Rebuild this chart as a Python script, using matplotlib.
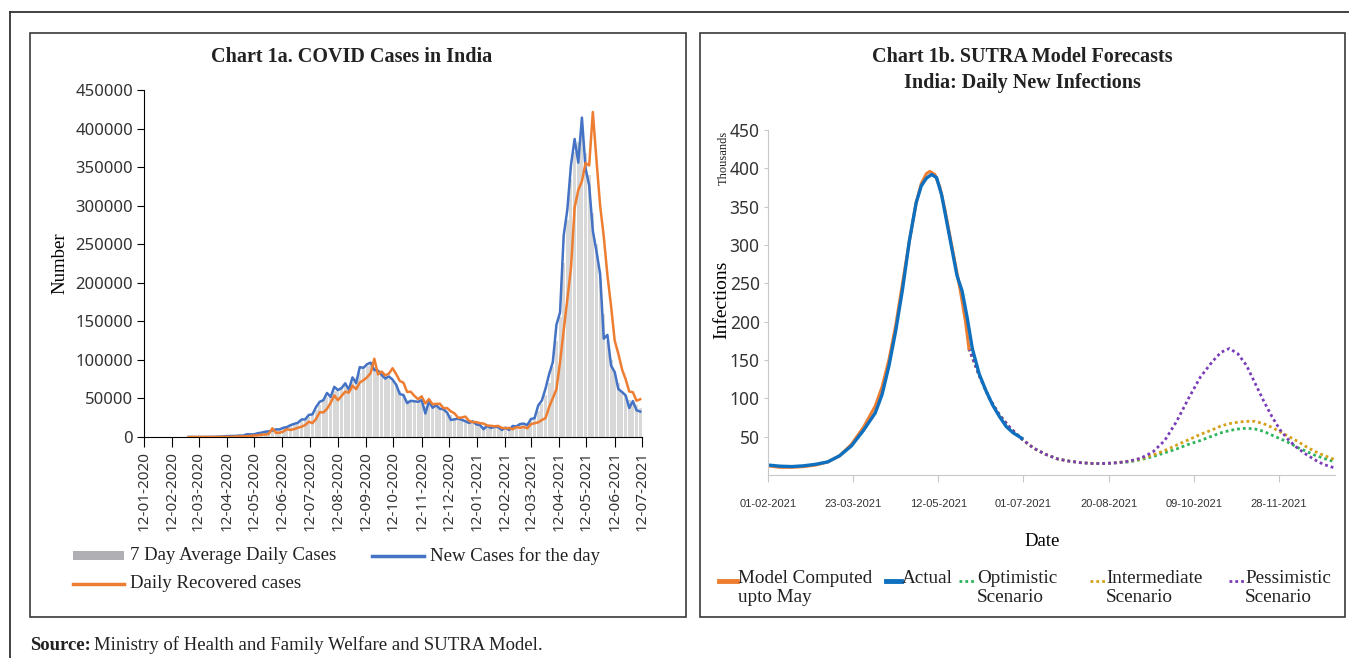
import matplotlib
matplotlib.use("Agg")
import matplotlib.pyplot as plt
import matplotlib.dates as mdates
import matplotlib.ticker as mticker
from matplotlib.lines import Line2D
from matplotlib.patches import Rectangle
import numpy as np
import pandas as pd

W, H = 1349, 658
SERIF = ["Liberation Serif", "DejaVu Serif"]
SANS = ["Noto Sans", "DejaVu Sans"]
NARROW = ["Liberation Sans Narrow", "Liberation Sans", "DejaVu Sans"]
plt.rcParams["font.family"] = SERIF
plt.rcParams["text.color"] = "#222222"

# ---------------- Chart 1a: daily values in thousands, every 4 days from 01-03-2020
new_cases = [
    0, 0, 0.01, 0.02, 0.03, 0.07, 0.09, 0.15,
    0.4, 0.6, 0.9, 1.2, 1.3, 1.4, 1.9, 1.8,
    3.6, 3.3, 3.5, 4.9, 5.6, 6.8, 7.3,
    8.4, 9.9, 9.9, 11.9, 12.9, 15.4, 17.0, 18.5,
    22.7, 22.8, 28.6, 29.4, 38.9, 45.7, 47.7, 57.1,
    52.0, 65.0, 60.9, 63.5, 69.6, 61.4, 77.3,
    69.9, 90.6, 89.7, 94.4, 96.4, 86.9, 86.1, 80.5,
    75.8, 78.5, 74.4, 67.7, 55.7, 54.4, 43.9, 46.9,
    46.3, 45.7, 47.9, 30.5, 45.9, 37.9, 41.3,
    36.6, 36.0, 31.5, 22.1, 22.9, 23.9, 22.3, 20.5,
    18.2, 20.3, 16.3, 15.6, 10.1, 14.3, 11.7, 13.1,
    12.9, 9.1, 12.1, 9.1, 14.3, 13.7, 16.8,
    17.4, 15.4, 23.3, 24.5, 40.9, 47.3, 62.7,
    81.5, 96.9, 145.4, 161.7, 261.5, 295.0, 352.9, 386.5,
    355.8, 414.2, 348.4, 326.1, 267.3, 240.8, 211.3, 127.5,
    132.4, 92.6, 84.3, 62.2, 58.4, 54.1, 37.6,
    46.6, 34.7, 33.0,
]
recovered = [
    0, 0, 0, 0, 0, 0, 0.01, 0.02,
    0.05, 0.1, 0.1, 0.2, 0.3, 0.6, 0.8, 0.7,
    1.1, 1.3, 1.9, 2.2, 3.0, 3.3, 3.9,
    11.3, 5.4, 5.6, 7.0, 10.2, 9.1, 10.3, 12.0,
    13.2, 15.5, 19.8, 18.0, 23.5, 32.2, 31.9, 36.5,
    44.3, 53.9, 47.7, 53.3, 58.8, 57.5, 66.6,
    62.0, 70.6, 73.6, 77.5, 82.9, 101.5, 81.2, 84.9,
    79.9, 82.2, 89.2, 81.5, 72.6, 70.4, 58.4, 58.7,
    53.3, 49.1, 52.7, 43.5, 49.2, 42.3, 43.0,
    43.1, 37.5, 37.5, 33.3, 30.7, 25.0, 25.2, 26.5,
    20.9, 19.3, 19.3, 17.9, 17.4, 14.9, 14.5, 13.9,
    14.4, 11.8, 11.4, 11.8, 10.0, 12.8, 12.0,
    13.1, 11.3, 16.6, 17.9, 19.0, 22.0, 24.5,
    38.9, 50.3, 61.8, 97.2, 138.4, 178.8, 219.3, 297.5,
    320.3, 331.5, 355.3, 352.2, 421.5, 359.0, 300.0, 260.0,
    210.0, 170.0, 125.0, 108.0, 88.0, 75.0, 59.0,
    58.0, 47.0, 49.0,
]
avg_7day = [
    0, 0, 0, 0.01, 0.02, 0.05, 0.08, 0.12,
    0.3, 0.5, 0.8, 1.0, 1.2, 1.3, 1.6, 1.7,
    2.5, 3.2, 3.6, 4.1, 5.2, 6.3, 7.0,
    7.9, 9.0, 9.6, 11.1, 12.2, 14.3, 16.1, 18.4,
    20.5, 22.9, 26.3, 29.6, 35.5, 41.7, 47.5, 52.0,
    54.0, 60.0, 62.5, 63.5, 66.5, 64.4, 70.9,
    76.0, 83.0, 88.0, 92.5, 93.2, 90.0, 86.0, 83.0,
    78.5, 75.0, 73.0, 67.0, 60.0, 54.0, 48.0, 47.0,
    46.0, 46.0, 45.5, 40.5, 42.0, 42.5, 41.5,
    38.0, 34.5, 31.0, 28.0, 24.6, 23.5, 21.5, 20.0,
    19.5, 18.5, 17.5, 15.5, 14.5, 13.8, 13.2, 12.8,
    12.6, 11.9, 11.5, 11.4, 12.5, 13.9, 15.5,
    16.2, 17.3, 21.5, 25.5, 33.5, 42.5, 54.0,
    70.0, 91.0, 125.0, 155.0, 226.0, 282.0, 335.0, 369.0,
    383.0, 391.0, 368.0, 340.0, 290.0, 250.0, 205.0, 160.0,
    125.0, 100.0, 85.0, 70.0, 60.0, 54.0, 48.0,
    44.0, 42.0, 38.0,
]

# ---------------- Chart 1b: days after 01-02-2021, values in thousands
actual_days = [0, 7, 14, 21, 28, 35, 42, 49, 56, 63, 67, 71, 75, 79, 83, 87, 90,
               93, 96, 99, 102, 105, 108, 111, 114, 117, 120, 124, 128, 132, 136,
               140, 144, 149]
actual = [13, 11.5, 11, 12, 14, 17, 25, 38, 58, 81, 105, 142, 188, 242, 305, 355,
          377, 387, 392, 388, 365, 330, 295, 260, 240, 205, 165, 132, 110, 91, 76,
          63, 55, 48]
model_days = [0, 7, 14, 21, 28, 35, 42, 49, 56, 63, 67, 71, 75, 79, 83, 87, 90,
              93, 95, 98, 101, 104, 107, 110, 113, 116, 118]
model = [12, 10, 10, 11, 13, 17, 25, 40, 62, 90, 115, 150, 195, 250, 305, 355,
         380, 393, 396, 392, 375, 345, 310, 275, 240, 200, 165]
scen_days = [118, 124, 130, 136, 142, 149, 156, 163, 170, 177, 184, 191, 198, 205,
             212, 219, 226, 233, 240, 247, 254, 261, 266, 271, 276, 281, 286, 291,
             296, 301, 306, 311, 316, 321, 326, 333]
optimistic = [165, 130, 100, 78, 62, 47, 35, 27, 21, 18, 16, 15, 15, 16,
              17, 20, 24, 29, 34, 40, 45, 51, 55, 58, 60, 61, 60, 57,
              52, 47, 42, 36, 31, 26, 22, 17]
intermediate = [165, 130, 100, 78, 62, 47, 35, 27, 21, 18, 16, 15, 15, 16,
                18, 21, 26, 32, 39, 46, 53, 59, 64, 67, 69, 70, 70, 67,
                62, 56, 50, 44, 37, 31, 26, 20]
pessimistic = [165, 130, 100, 78, 62, 47, 35, 27, 21, 18, 16, 15, 15, 16,
               18, 22, 30, 45, 70, 100, 128, 148, 160, 165, 158, 143, 120, 97,
               76, 58, 45, 35, 27, 20, 14, 9]


def fx(px):
    return px / W


def fy(py):
    return 1 - py / H


fig = plt.figure(figsize=(W / 100, H / 100), dpi=100)

# frames
fig.add_artist(Line2D([fx(10), 1], [fy(12), fy(12)], transform=fig.transFigure,
                      color="#333333", lw=1.3))
fig.add_artist(Line2D([fx(10), fx(10)], [fy(12), 0], transform=fig.transFigure,
                      color="#333333", lw=1.3))
for x0, x1 in [(30, 686), (700, 1345)]:
    fig.add_artist(Rectangle((fx(x0), fy(617)), (x1 - x0) / W, (617 - 33) / H,
                             transform=fig.transFigure, fill=False,
                             edgecolor="#3a3a3a", lw=1.2))

# ---------------- Chart 1a
dates_1a = pd.date_range("2020-03-01", periods=len(new_cases), freq="4D")
ax1 = fig.add_axes([fx(144), fy(437), (642 - 144) / W, (437 - 90) / H])
ax1.bar(dates_1a, np.array(avg_7day) * 1000, width=3.3, color="#d8d8d8",
        linewidth=0, zorder=1)
ax1.plot(dates_1a, np.array(new_cases) * 1000, color="#4472C4", lw=1.8, zorder=2)
ax1.plot(dates_1a, np.array(recovered) * 1000, color="#ED7D31", lw=1.8, zorder=3)
ax1.set_xlim(pd.Timestamp("2020-01-12"), pd.Timestamp("2021-07-12"))
ax1.set_ylim(0, 450000)
ax1.set_yticks(range(0, 450001, 50000))
ax1.yaxis.set_major_formatter(mticker.StrMethodFormatter("{x:.0f}"))
ax1.set_xticks(pd.date_range("2020-01-01", "2021-07-01", freq="MS")
               + pd.Timedelta(days=11))
ax1.xaxis.set_major_formatter(mdates.DateFormatter("%d-%m-%Y"))
ax1.tick_params(axis="x", rotation=90, length=7, pad=3, labelsize=11)
ax1.tick_params(axis="y", length=5, pad=3, labelsize=12)
ax1.tick_params(labelfontfamily=SANS, labelcolor="#333333")
for side in ["top", "right"]:
    ax1.spines[side].set_visible(False)
ax1.set_ylabel("Number", fontsize=13.5)
ax1.yaxis.set_label_coords(-0.152, 0.5)

fig.text(fx(352), fy(57), "Chart 1a. COVID Cases in India", ha="center",
         va="center", fontsize=14.5, fontweight="bold")

# legend 1a
fig.add_artist(Rectangle((fx(73), fy(560)), 51 / W, 9 / H,
                         transform=fig.transFigure, color="#b0b0b4", lw=0))
fig.add_artist(Line2D([fx(372), fx(424)], [fy(556)] * 2, transform=fig.transFigure,
                      color="#4472C4", lw=2.5))
fig.add_artist(Line2D([fx(73), fx(124)], [fy(584)] * 2, transform=fig.transFigure,
                      color="#ED7D31", lw=2.5))
fig.text(fx(130), fy(556), "7 Day Average Daily Cases", va="center", fontsize=13.5)
fig.text(fx(430), fy(556), "New Cases for the day", va="center", fontsize=13.5)
fig.text(fx(130), fy(584), "Daily Recovered cases", va="center", fontsize=13.5)

# ---------------- Chart 1b
t0 = pd.Timestamp("2021-02-01")


def to_dates(days):
    return t0 + pd.to_timedelta(days, unit="D")


ax2 = fig.add_axes([fx(768), fy(475), (1335 - 768) / W, (475 - 130) / H])
dot = (0, (1, 1.1))
ax2.plot(to_dates(scen_days), optimistic, color="#2DB55D", lw=2.0, ls=dot)
ax2.plot(to_dates(scen_days), intermediate, color="#D4A017", lw=2.0, ls=dot)
ax2.plot(to_dates(scen_days), pessimistic, color="#7A3DB8", lw=2.0, ls=dot)
ax2.plot(to_dates(model_days), model, color="#ED7D31", lw=2.2)
ax2.plot(to_dates(actual_days), actual, color="#0E70BE", lw=2.4)
ax2.set_xlim(t0, t0 + pd.Timedelta(days=333))
ax2.set_ylim(0, 450)
ax2.set_yticks(range(50, 451, 50))
ax2.set_xticks(pd.date_range(t0, periods=7, freq="50D"))
ax2.xaxis.set_major_formatter(mdates.DateFormatter("%d-%m-%Y"))
for side in ["top", "right"]:
    ax2.spines[side].set_visible(False)
for side in ["left", "bottom"]:
    ax2.spines[side].set_color("#c8c8c8")
ax2.tick_params(colors="#c8c8c8", labelcolor="#333333")
ax2.tick_params(axis="x", length=5, pad=12, labelsize=8, labelfontfamily=NARROW)
ax2.tick_params(axis="y", length=3, pad=3, labelsize=12.5, labelfontfamily=SANS)
ax2.set_ylabel("Infections", fontsize=14)
ax2.yaxis.set_label_coords(-0.066, 0.507)
ax2.set_xlabel("Date", fontsize=13.5)
ax2.xaxis.set_label_coords(0.483, -0.168)
fig.text(fx(724), fy(158), "Thousands", rotation=90, ha="center", va="center",
         fontsize=9)

fig.text(fx(1022), fy(57), "Chart 1b. SUTRA Model Forecasts", ha="center",
         va="center", fontsize=14.5, fontweight="bold")
fig.text(fx(1022), fy(83), "India: Daily New Infections", ha="center",
         va="center", fontsize=14.5, fontweight="bold")

# legend 1b
legend_items = [
    (719, 737, "#ED7D31", "-", 738, "Model Computed\nupto May"),
    (886, 901, "#0E70BE", "-", 902, "Actual"),
    (959, 975, "#2DB55D", ":", 977, "Optimistic\nScenario"),
    (1090, 1105, "#D4A017", ":", 1106, "Intermediate\nScenario"),
    (1229, 1244, "#7A3DB8", ":", 1245, "Pessimistic\nScenario"),
]
for x0, x1, color, style, tx, label in legend_items:
    lw = 3.5 if style == "-" else 2
    fig.add_artist(Line2D([fx(x0), fx(x1)], [fy(581)] * 2, transform=fig.transFigure,
                          color=color, lw=lw, ls=style if style == "-" else dot))
    fig.text(fx(tx), fy(570), label, ha="left", va="top", fontsize=13.8,
             linespacing=1.12)

# source
fig.text(fx(30), fy(645), "Source:", fontweight="bold", fontsize=13.5, va="center")
fig.text(fx(94), fy(645), "Ministry of Health and Family Welfare and SUTRA Model.",
         fontsize=13.5, va="center")

fig.savefig("out.png", dpi=100)
